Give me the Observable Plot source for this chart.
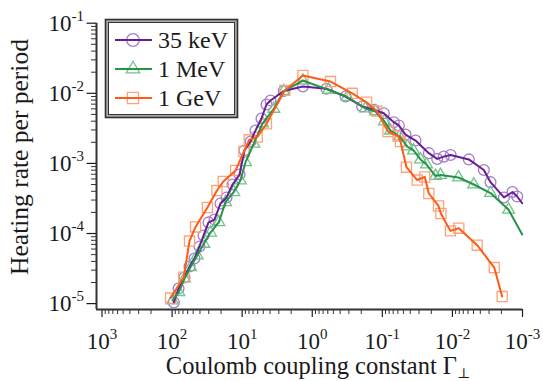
<!DOCTYPE html>
<html><head><meta charset="utf-8">
<script src="https://cdn.jsdelivr.net/npm/d3@7"></script>
<script src="https://cdn.jsdelivr.net/npm/@observablehq/plot@0.6"></script>
<style>
html,body{margin:0;padding:0;background:#fff;}
#chart{width:543px;height:381px;}
</style></head><body><div id="chart"></div>
<script>
// ---- data ----
const seriesNames = ["35 keV", "1 MeV", "1 GeV"];

const gamma35keV = [94.4, 80.9, 66.5, 56.4, 47.9, 40.6, 35.6, 30.2, 24.8, 20.4, 16.7, 13.7, 10.9, 9.27, 7.60, 6.46, 5.30, 4.50, 3.94, 2.55, 1.36, 0.627, 0.335, 0.194, 0.132, 0.0953, 0.0686, 0.0582, 0.0467, 0.0336, 0.0217, 0.0165, 0.0133, 0.0106, 0.00583, 0.00356, 0.00286, 0.00184, 0.00139, 0.00119, 0.00101];
const rate35keV = [1.04e-5, 1.64e-5, 2.36e-5, 3.38e-5, 4.40e-5, 6.53e-5, 9.35e-5, 1.44e-4, 1.58e-4, 2.68e-4, 3.27e-4, 5.00e-4, 6.95e-4, 1.53e-3, 2.05e-3, 2.94e-3, 4.37e-3, 6.92e-3, 7.89e-3, 1.08e-2, 1.25e-2, 1.16e-2, 8.99e-3, 6.49e-3, 5.82e-3, 5.20e-3, 3.87e-3, 3.48e-3, 2.58e-3, 2.12e-3, 1.40e-3, 1.16e-3, 1.25e-3, 1.32e-3, 1.14e-3, 8.05e-4, 5.40e-4, 3.27e-4, 3.91e-4, 3.37e-4, 2.70e-4];

const gamma1MeV = [98.6, 80.2, 66.5, 54.6, 43.8, 35.2, 28.3, 21.5, 17.3, 13.2, 10.6, 8.95, 6.82, 5.13, 3.54, 2.55, 1.36, 0.586, 0.317, 0.174, 0.125, 0.0931, 0.0764, 0.0569, 0.0438, 0.0359, 0.0285, 0.0234, 0.0174, 0.0148, 0.00818, 0.00495, 0.00286, 0.00158, 0.00101];
const rate1MeV = [1.11e-5, 1.46e-5, 2.28e-5, 3.30e-5, 4.85e-5, 7.13e-5, 1.03e-4, 1.45e-4, 2.80e-4, 3.88e-4, 5.70e-4, 1.04e-3, 1.91e-3, 3.71e-3, 6.01e-3, 1.07e-2, 1.52e-2, 1.12e-2, 8.85e-3, 6.07e-3, 5.50e-3, 3.96e-3, 2.94e-3, 2.42e-3, 1.74e-3, 1.53e-3, 1.14e-3, 9.64e-4, 6.61e-4, 6.84e-4, 6.30e-4, 5.00e-4, 3.78e-4, 2.18e-4, 9.68e-5];

const gamma1GeV = [105, 68.1, 56.4, 46.3, 31.3, 22.9, 18.6, 12.4, 9.42, 7.93, 6.10, 4.50, 2.47, 1.36, 0.549, 0.269, 0.168, 0.120, 0.0830, 0.0597, 0.0551, 0.0452, 0.0318, 0.0248, 0.0217, 0.0158, 0.0146, 0.0107, 0.00811, 0.00443, 0.00253, 0.00195];
const rate1GeV = [1.20e-5, 2.39e-5, 7.8e-5, 1.24e-4, 2.35e-4, 4.10e-4, 5.52e-4, 7.93e-4, 1.48e-3, 2.17e-3, 2.37e-3, 3.67e-3, 1.10e-2, 1.80e-2, 1.47e-2, 1.00e-2, 7.46e-3, 5.59e-3, 2.85e-3, 2.46e-3, 2.05e-3, 8.83e-4, 5.79e-4, 6.40e-4, 3.72e-4, 2.47e-4, 1.93e-4, 1.09e-4, 1.19e-4, 6.81e-5, 3.27e-5, 1.26e-5];

const xTickValues = [1e3, 1e2, 1e1, 1e0, 1e-1, 1e-2, 1e-3];
const xTickExponents = ["3", "2", "1", "0", "-1", "-2", "-3"];
const yTickValues = [1e-1, 1e-2, 1e-3, 1e-4, 1e-5];
const yTickExponents = ["-1", "-2", "-3", "-4", "-5"];
const xTitle = "Coulomb coupling constant Γ";
const xTitleSub = "⊥";
const yTitle = "Heating rate per period";

// ---- styling ----
const lineColors = ["#6a1b9a", "#24944a", "#ff5b14"];
const markColors = ["#a47dc9", "#72c488", "#ffa27c"];
const symbols = ["circle", "triangle", "square"];
const symbolR = [5.4, 4.4, 5.7];
const font = "'Liberation Serif', 'Times New Roman', serif";

const gammas = [gamma35keV, gamma1MeV, gamma1GeV];
const rates = [rate35keV, rate1MeV, rate1GeV];
const hasEndMarker = [false, false, true];

const rows = seriesNames.flatMap((s, i) => gammas[i].map((g, j) => ({
  series: s, idx: i, gamma: g, rate: rates[i][j],
  marker: hasEndMarker[i] || j < gammas[i].length - 1
})));

const xMinor = d3.range(-3, 3).flatMap(e => d3.range(2, 10).map(m => m * 10 ** e));
const yMinor = d3.range(-5, -1).flatMap(e => d3.range(2, 10).map(m => m * 10 ** e));
const xDomain = [10 ** 3.0785, 1e-3];
const yDomain = [10 ** -5.084, 1e-1];

const marks = [
  Plot.axisX(xMinor, {tickSize: 5, tickFormat: () => "", label: null, color: "#333", strokeWidth: 1}),
  Plot.axisX(xTickValues, {tickSize: 8, tickPadding: 15, label: null, color: "#1a1a1a", strokeWidth: 1.2,
    fontSize: 23, tickFormat: d => xTickExponents[xTickValues.indexOf(d)]}),
  Plot.axisY(yMinor, {tickSize: 5, tickFormat: () => "", label: null, color: "#333", strokeWidth: 1}),
  Plot.axisY(yTickValues, {tickSize: 9.5, tickPadding: 3, label: null, color: "#1a1a1a", strokeWidth: 1.2,
    fontSize: 23, tickFormat: d => yTickExponents[yTickValues.indexOf(d)]}),
  Plot.ruleX([xDomain[0]], {stroke: "#333", strokeWidth: 2}),
  Plot.ruleY([yDomain[0]], {stroke: "#333", strokeWidth: 2})
];
seriesNames.forEach((s, i) => {
  marks.push(Plot.dot(rows.filter(d => d.idx === i && d.marker), {
    x: "gamma", y: "rate", symbol: () => symbols[i], r: symbolR[i],
    stroke: markColors[i], strokeWidth: 1.3, fill: "none"
  }));
});
seriesNames.forEach((s, i) => {
  marks.push(Plot.line(rows.filter(d => d.idx === i), {
    x: "gamma", y: "rate", stroke: lineColors[i], strokeWidth: 2, curve: "linear"
  }));
});

const chart = Plot.plot({
  width: 543, height: 381,
  marginLeft: 96, marginRight: 21, marginTop: 22.7, marginBottom: 72,
  x: {type: "log", domain: xDomain, axis: null},
  y: {type: "log", domain: yDomain, axis: null},
  symbol: {type: "identity"},
  style: {fontFamily: font, background: "#fff", color: "#1a1a1a", overflow: "visible"},
  marks
});
document.getElementById("chart").appendChild(chart);

// superscript tick labels; drop the empty minor-tick labels
const NS = "http://www.w3.org/2000/svg";
chart.querySelectorAll('g[aria-label$="tick label"] text').forEach(t => {
  const exp = t.textContent;
  if (!exp) { t.remove(); return; }
  t.textContent = "10";
  const ts = document.createElementNS(NS, "tspan");
  ts.setAttribute("font-size", "15");
  ts.setAttribute("dy", "-10");
  ts.textContent = exp;
  t.appendChild(ts);
});

// titles and legend
const svg = d3.select(chart);
const xt = svg.append("text").attr("x", 318).attr("y", 374).attr("text-anchor", "middle")
  .attr("font-family", font).attr("font-size", 24.5).attr("fill", "#1a1a1a").text(xTitle);
xt.append("tspan").attr("font-size", 14).attr("dy", 3.5).attr("font-family", "'DejaVu Serif', serif").text(xTitleSub);
svg.append("text").attr("transform", "translate(27.5,157) rotate(-90)").attr("text-anchor", "middle")
  .attr("font-family", font).attr("font-size", 25.5).attr("fill", "#1a1a1a").text(yTitle);

const lg = svg.append("g");
lg.append("rect").attr("x", 105.5).attr("y", 19.5).attr("width", 132).attr("height", 98)
  .attr("fill", "#aaa").attr("stroke", "#333").attr("stroke-width", 1.6);
lg.append("rect").attr("x", 108.5).attr("y", 22.5).attr("width", 126).attr("height", 92)
  .attr("fill", "#fff").attr("stroke", "#333").attr("stroke-width", 1);
const rowY = [40, 69, 98];
const symTypes = [d3.symbolCircle, d3.symbolTriangle, d3.symbolSquare];
const legR = [6.3, 5, 6.3];
seriesNames.forEach((s, i) => {
  const y = rowY[i];
  lg.append("path").attr("transform", `translate(133,${y})`)
    .attr("d", d3.symbol(symTypes[i], Math.PI * legR[i] * legR[i])())
    .attr("fill", "none").attr("stroke", markColors[i]).attr("stroke-width", 1.3);
  lg.append("line").attr("x1", 115).attr("x2", 152).attr("y1", y).attr("y2", y)
    .attr("stroke", lineColors[i]).attr("stroke-width", 2);
  lg.append("text").attr("x", 158).attr("y", y + 7.5).attr("text-anchor", "start").attr("font-family", font)
    .attr("font-size", 24).attr("fill", "#1a1a1a").text(s);
});
</script></body></html>
